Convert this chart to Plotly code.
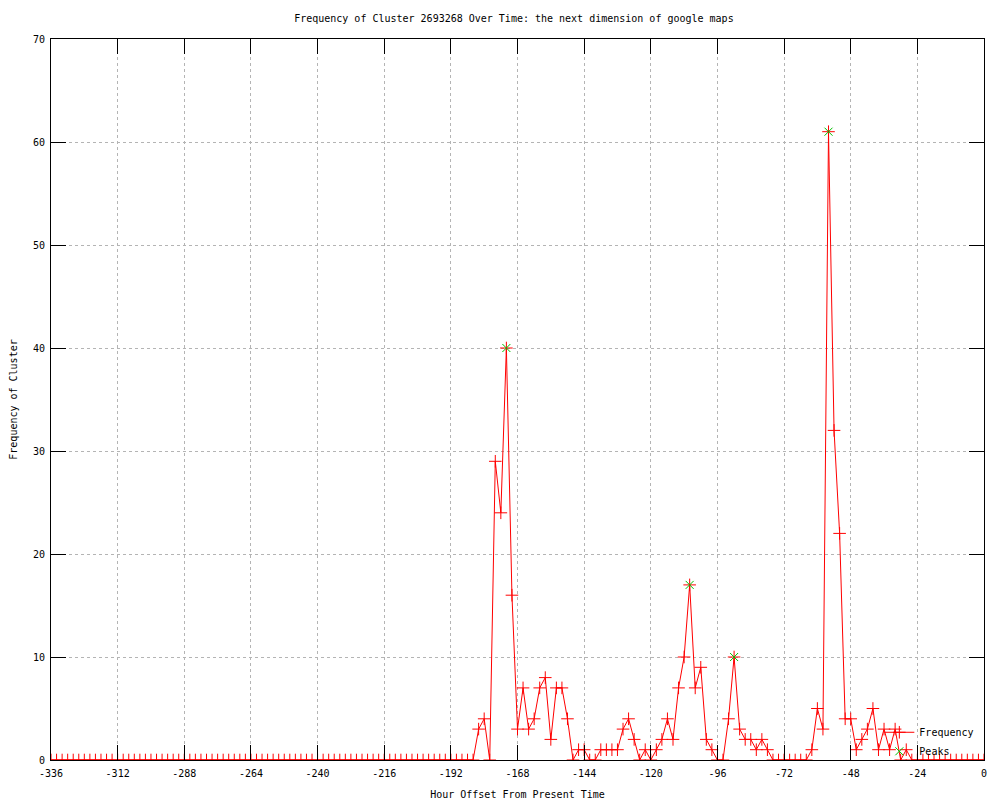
import plotly.graph_objects as go

# Hour offsets (every 2 hours from -336 to 0)
hours = list(range(-336, 1, 2))

# Cluster frequency per 2-hour bucket
freq = [
    # -336 .. -184
    0, 0, 0, 0, 0, 0, 0, 0, 0, 0, 0, 0, 0,
    0, 0, 0, 0, 0, 0, 0, 0, 0, 0, 0, 0,
    0, 0, 0, 0, 0, 0, 0, 0, 0, 0, 0, 0,
    0, 0, 0, 0, 0, 0, 0, 0, 0, 0, 0, 0,
    0, 0, 0, 0, 0, 0, 0, 0, 0, 0, 0, 0,
    0, 0, 0, 0, 0, 0, 0, 0, 0, 0, 0, 0,
    0, 0, 0, 0,
    # -182 .. -28
    3, 4, 0, 29, 24, 40, 16, 3, 7, 3, 4, 7, 8, 2, 7, 7, 4, 0, 1, 1,
    0, 0, 1, 1, 1, 1, 3, 4, 2, 0, 1, 0, 1, 2, 4, 2, 7, 10, 17, 7,
    9, 2, 1, 0, 0, 4, 10, 3, 2, 2, 1, 2, 1, 0, 0, 0, 0, 0, 0, 0,
    1, 5, 3, 61, 32, 22, 4, 4, 1, 2, 3, 5, 1, 3, 1, 3, 0, 1,
    # -26 .. 0
    0, 0, 0, 0, 0, 0, 0, 0, 0, 0, 0, 0, 0, 0,
]

peak_hours = [-172, -106, -90, -56]
peak_vals = [40, 17, 10, 61]

x_ticks = [-336, -312, -288, -264, -240, -216, -192, -168, -144, -120, -96, -72, -48, -24, 0]
y_ticks = [0, 10, 20, 30, 40, 50, 60, 70]

FONT = "DejaVu Sans Mono"

fig = go.Figure()
fig.add_trace(go.Scatter(
    x=hours, y=freq, mode="lines+markers", name="Frequency",
    line=dict(color="#ff0000", width=1),
    marker=dict(symbol="cross-thin", size=9, line=dict(color="#ff0000", width=1), color="#ff0000"),
))
fig.add_trace(go.Scatter(
    x=peak_hours, y=peak_vals, mode="markers", name="Peaks",
    marker=dict(symbol="x-thin", size=8, line=dict(color="#00c000", width=1), color="#00c000"),
))

axis_common = dict(
    showline=True, linecolor="black", linewidth=1, mirror="ticks",
    ticks="inside", ticklen=15, tickcolor="black", tickwidth=1,
    showgrid=True, gridcolor="#b4b4b4", griddash="dot", gridwidth=1,
    zeroline=False, automargin=False,
    tickfont=dict(family=FONT, size=10, color="black"),
)

fig.update_layout(
    width=992, height=792,
    paper_bgcolor="white", plot_bgcolor="white",
    margin=dict(l=43, r=16, t=31, b=40),
    title=dict(text="Frequency of Cluster 2693268 Over Time: the next dimension of google maps",
               x=0.51, xanchor="center", y=0.987, yanchor="middle",
               font=dict(family=FONT, size=10, color="black")),
    xaxis=dict(range=[-336, 0], tickvals=x_ticks, ticktext=[str(v) for v in x_ticks],
               ticklabelstandoff=4,
               title=dict(text="Hour Offset From Present Time", font=dict(family=FONT, size=10, color="black")),
               **axis_common),
    yaxis=dict(range=[0, 70], tickvals=y_ticks, ticktext=[str(v) for v in y_ticks],
               ticklabelstandoff=3,
               title=dict(text="Frequency of Cluster", font=dict(family=FONT, size=10, color="black")),
               **axis_common),
    legend=dict(x=0.995, y=-0.008, xanchor="right", yanchor="bottom",
                bgcolor="rgba(0,0,0,0)", font=dict(family=FONT, size=10, color="black"),
                tracegroupgap=0, itemwidth=30),
    showlegend=True,
)

fig.write_html("out.html")
